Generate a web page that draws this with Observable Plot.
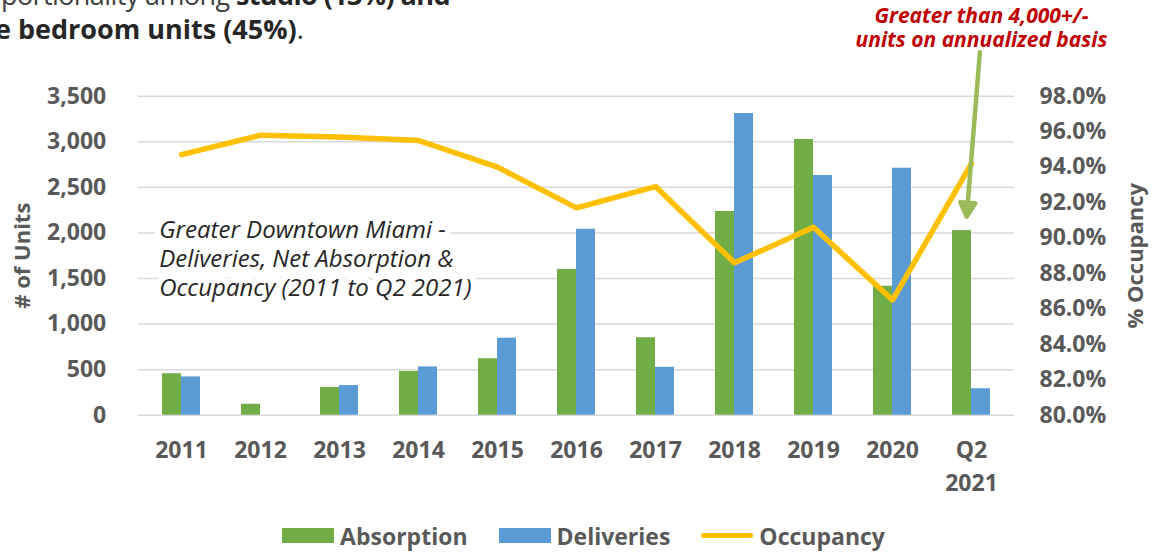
<!DOCTYPE html>
<html>
<head>
<meta charset="utf-8">
<script src="https://cdn.jsdelivr.net/npm/d3@7"></script>
<script src="https://cdn.jsdelivr.net/npm/@observablehq/plot@0.6"></script>
<style>
  html, body { margin: 0; padding: 0; background: #fff; width: 1153px; height: 555px; overflow: hidden; }
  #wrap { position: relative; width: 1153px; height: 555px; font-family: "Open Sans", sans-serif; }
  #chart { position: absolute; left: 0; top: 0; }
  #header { position: absolute; left: 0; top: -22px; width: 700px; font-size: 27px; line-height: 34px; color: #262626; white-space: nowrap; }
  #header .l1 { margin-left: -41px; color: #404040; letter-spacing: -0.6px; }
  #header .l2 { margin-left: -5px; }
  #header b { font-weight: 700; color: #262626; }
  #legend { position: absolute; left: 7px; top: 513px; width: 1153px; height: 45px; display: flex; justify-content: center; align-items: center; gap: 31px; font-size: 23px; font-weight: 700; color: #595959; }
  #legend .item { display: flex; align-items: center; gap: 6px; }
  #legend .sw { width: 52px; height: 15px; }
  #legend .ln { width: 52px; height: 5px; border-radius: 3px; }
</style>
</head>
<body>
<div id="wrap">
  <div id="chart"></div>
  <div id="header">
    <div class="l1">proportionality among <b>studio (13%) and</b></div>
    <div class="l2"><b>e bedroom units (45%)</b>.</div>
  </div>
  <div id="legend"></div>
</div>
<script>
// ---- Data ----
const years = ["2011", "2012", "2013", "2014", "2015", "2016", "2017", "2018", "2019", "2020", "Q2 2021"];
const absorption = [455, 120, 305, 480, 620, 1600, 850, 2235, 3025, 1415, 2025];
const deliveries = [420, 0, 325, 530, 845, 2040, 525, 3310, 2630, 2710, 290];
const occupancy = [94.7, 95.8, 95.7, 95.5, 94.0, 91.7, 92.9, 88.6, 90.6, 86.5, 94.2];
const unitTicks = [0, 500, 1000, 1500, 2000, 2500, 3000, 3500];
const occTicks = [80, 82, 84, 86, 88, 90, 92, 94, 96, 98];
const seriesNames = ["Absorption", "Deliveries", "Occupancy"];
const chartNote = "Greater Downtown Miami -\nDeliveries, Net Absorption &\nOccupancy (2011 to Q2 2021)";
const calloutNote = "Greater than 4,000+/-\nunits on annualized basis";
const calloutTarget = [{year: "Q2 2021", units: 2156}];

const colors = {Absorption: "#70AD47", Deliveries: "#5B9BD5", Occupancy: "#FFC000"};

// Map occupancy % onto the units axis (shared vertical range)
const unitMax = 3500, occMin = 80, occMax = 98;
const toY = o => (o - occMin) / (occMax - occMin) * unitMax;
const fromY = v => occMin + v / unitMax * (occMax - occMin);

const rows = years.map((year, i) => ({year, absorption: absorption[i], deliveries: deliveries[i], occupancy: occupancy[i]}));

// custom arrow shape with filled head
const arrowShape = {
  draw(context, l) {
    const head = 16, half = 7.5;
    context.moveTo(0, 0);
    context.lineTo(0, -l + head);
    context.moveTo(-half, -l + head);
    context.lineTo(0, -l + 2);
    context.lineTo(half, -l + head);
    context.closePath();
  }
};

const chart = Plot.plot({
  width: 1153,
  height: 513,
  marginTop: 95.7,
  marginBottom: 98.3,
  marginLeft: 137.7,
  marginRight: 139,
  style: {fontFamily: "'Open Sans', sans-serif", fontSize: "23px", fontWeight: "bold", color: "#595959", background: "transparent", overflow: "visible"},
  x: {domain: years, paddingInner: 0.523, paddingOuter: 0.2615, label: null},
  y: {domain: [0, unitMax], label: null},
  marks: [
    Plot.gridY(unitTicks, {stroke: "#d9d9d9", strokeOpacity: 1, strokeWidth: 1.5}),
    Plot.axisY(unitTicks, {anchor: "left", tickSize: 0, tickPadding: 32, tickFormat: d3.format(","), label: null, fill: "#595959", fontSize: 23}),
    Plot.axisY(occTicks.map(toY), {anchor: "right", tickSize: 0, tickPadding: 25, tickFormat: v => fromY(v).toFixed(1) + "%", label: null, fill: "#595959", fontSize: 23}),
    Plot.axisX({tickSize: 0, tickPadding: 19, tickFormat: d => d.replace(" ", "\n"), lineHeight: 1.45, label: null, fill: "#595959", fontSize: 23}),
    Plot.text(["# of Units"], {text: d => d, frameAnchor: "left", textAnchor: "middle", rotate: -90, dx: -115, fill: "#595959", fontWeight: "bold", fontSize: 22}),
    Plot.text(["% Occupancy"], {text: d => d, frameAnchor: "right", textAnchor: "middle", rotate: -90, dx: 121, fill: "#595959", fontWeight: "bold", fontSize: 22}),
    Plot.text([chartNote], {text: d => d, frameAnchor: "top-left", textAnchor: "start", lineAnchor: "top", dx: 21, dy: 121, fontStyle: "italic", fontWeight: "normal", fontSize: 24, lineHeight: 1.21, fill: "#262626", stroke: "white", strokeWidth: 12, strokeLinejoin: "round"}),
    Plot.barY(rows, {x: "year", y: "absorption", fill: colors.Absorption, insetRight: 19}),
    Plot.barY(rows, {x: "year", y: "deliveries", fill: colors.Deliveries, insetLeft: 19}),
    Plot.lineY(rows, {x: "year", y: d => toY(d.occupancy), stroke: colors.Occupancy, strokeWidth: 5.5, strokeLinejoin: "round", strokeLinecap: "round"}),
    Plot.vector(calloutTarget, {x: "year", y: "units", dx: -5, length: 167, rotate: 184.6, anchor: "end", shape: arrowShape, stroke: "#9BBB59", fill: "#9BBB59", strokeWidth: 4.5}),
    Plot.text([calloutNote], {text: d => d, x: () => "Q2 2021", frameAnchor: "top", lineAnchor: "top", dx: 10, dy: -90, fill: "#C00000", fontStyle: "italic", fontWeight: "bold", fontSize: 21, lineHeight: 1.15})
  ]
});
document.getElementById("chart").appendChild(chart);

// Legend
const legend = d3.select("#legend");
seriesNames.forEach(name => {
  const item = legend.append("div").attr("class", "item");
  item.append("div").attr("class", name === "Occupancy" ? "ln" : "sw").style("background", colors[name]);
  item.append("span").text(name);
});
</script>
</body>
</html>
